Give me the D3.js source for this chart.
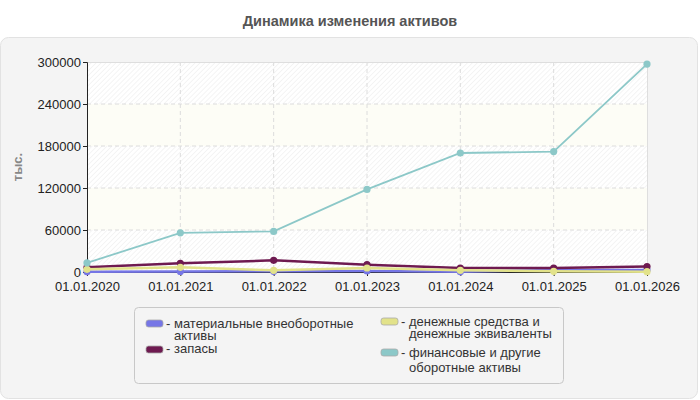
<!DOCTYPE html>
<html>
<head>
<meta charset="utf-8">
<script src="https://d3js.org/d3.v7.min.js"></script>
<style>
  body { margin: 0; background: #fff; }
  svg text { font-family: "Liberation Sans", Arial, sans-serif; }
</style>
</head>
<body>
<script>
// data (тыс.)
const dates = ["01.01.2020", "01.01.2021", "01.01.2022", "01.01.2023", "01.01.2024", "01.01.2025", "01.01.2026"]
const tangible = [300, 800, 1000, 1500, 300, 2900, 2900]
const stocks = [6700, 12400, 16700, 10500, 5700, 5700, 7700]
const cash = [3800, 6700, 2400, 5700, 2400, 1000, 500]
const financial = [13000, 56000, 58000, 118000, 170000, 172000, 297000]
const yTicks = [0, 60000, 120000, 180000, 240000, 300000]

const seriesNames = ["материальные внеоборотные активы", "запасы", "денежные средства и денежные эквиваленты", "финансовые и другие оборотные активы"]
const seriesColors = ["#7676e6", "#6e1a50", "#e2e28a", "#8cc8c8"]
const seriesValues = [tangible, stocks, cash, financial]

const W = 700, H = 400
const m = { left: 87, right: 53, top: 62, bottom: 128 }

const svg = d3.select("body").append("svg").attr("width", W).attr("height", H)

// hatch pattern for the plot background
const defs = svg.append("defs")
const pat = defs.append("pattern").attr("id", "hatch").attr("patternUnits", "userSpaceOnUse")
  .attr("width", 3.5).attr("height", 3.5).attr("patternTransform", "rotate(-45)")
pat.append("rect").attr("width", 3.5).attr("height", 3.5).attr("fill", "#fff")
pat.append("line").attr("x1", 0).attr("y1", 0).attr("x2", 3.5).attr("y2", 0)
  .attr("stroke", "#eeeeee").attr("stroke-width", 1.2)

svg.append("text").attr("x", W / 2).attr("y", 26).attr("text-anchor", "middle")
  .attr("font-size", 14.5).attr("font-weight", "bold").attr("fill", "#555")
  .text("Динамика изменения активов")

// outer panel
svg.append("rect").attr("x", 0.5).attr("y", 37.5).attr("width", W - 3).attr("height", H - 39)
  .attr("rx", 8).attr("fill", "#f4f4f4").attr("stroke", "#e2e2e2")

const x = d3.scalePoint().domain(dates).range([m.left, W - m.right])
const y = d3.scaleLinear().domain([0, 300000]).range([H - m.bottom, m.top])

const plot = svg.append("g")
plot.append("rect").attr("x", m.left).attr("y", m.top)
  .attr("width", W - m.right - m.left).attr("height", H - m.bottom - m.top).attr("fill", "url(#hatch)")

// pale bands between alternate ticks
d3.pairs(yTicks).forEach(([a, b], i) => {
  if (i % 2 === 1) {
    plot.append("rect").attr("x", m.left).attr("y", y(b))
      .attr("width", W - m.right - m.left).attr("height", y(a) - y(b)).attr("fill", "#fdfdf6")
  }
})

// grid
plot.selectAll(".hg").data(yTicks.slice(1, -1)).enter().append("line")
  .attr("x1", m.left).attr("x2", W - m.right).attr("y1", d => y(d)).attr("y2", d => y(d))
  .attr("stroke", "#dcdcdc").attr("stroke-dasharray", "4,3")
plot.selectAll(".vg").data(dates.slice(1, -1)).enter().append("line")
  .attr("x1", d => x(d)).attr("x2", d => x(d)).attr("y1", m.top).attr("y2", H - m.bottom)
  .attr("stroke", "#dcdcdc").attr("stroke-dasharray", "4,3")
plot.append("line").attr("x1", m.left).attr("x2", W - m.right).attr("y1", m.top + 0.5).attr("y2", m.top + 0.5).attr("stroke", "#dedede")
plot.append("line").attr("x1", W - m.right + 0.5).attr("x2", W - m.right + 0.5).attr("y1", m.top).attr("y2", H - m.bottom).attr("stroke", "#dedede")

// axes
const yAxis = svg.append("g").attr("transform", `translate(${m.left},0)`)
  .call(d3.axisLeft(y).tickValues(yTicks).tickSize(4).tickPadding(2).tickFormat(d3.format("d")))
const xAxis = svg.append("g").attr("transform", `translate(0,${H - m.bottom})`)
  .call(d3.axisBottom(x).tickSize(4).tickPadding(6))
;[yAxis, xAxis].forEach(a => {
  a.select(".domain").attr("stroke", "#222")
  a.selectAll(".tick line").attr("stroke", "#222")
  a.selectAll("text").attr("font-size", 13).attr("fill", "#222")
    .attr("font-family", "'Liberation Sans', Arial, sans-serif")
})

svg.append("text").attr("transform", `translate(22,${(m.top + H - m.bottom) / 2}) rotate(-90)`)
  .attr("text-anchor", "middle").attr("font-size", 13).attr("font-weight", "bold").attr("fill", "#888")
  .text("тыс.")

// lines
const line = d3.line().x((d, i) => x(dates[i])).y(d => y(d))
seriesValues.forEach((vals, s) => {
  const g = svg.append("g")
  g.append("path").datum(vals).attr("d", line).attr("fill", "none")
    .attr("stroke", seriesColors[s]).attr("stroke-width", s === 3 ? 1.8 : 2.5)
  g.selectAll("circle").data(vals).enter().append("circle")
    .attr("cx", (d, i) => x(dates[i])).attr("cy", d => y(d)).attr("r", 3.6)
    .attr("fill", seriesColors[s])
})

// legend
const lg = svg.append("g")
lg.append("rect").attr("x", 134.5).attr("y", 307.5).attr("width", 429).attr("height", 76)
  .attr("rx", 4).attr("fill", "#f4f4f4").attr("stroke", "#c8c8c8")
const legendItems = [
  { s: 0, x: 146, y: 320, lines: ["материальные внеоборотные", "активы"], ty: 328 },
  { s: 1, x: 146, y: 346, lines: ["запасы"], ty: 353 },
  { s: 2, x: 381, y: 318, lines: ["денежные средства и", "денежные эквиваленты"], ty: 326 },
  { s: 3, x: 381, y: 349, lines: ["финансовые и другие", "оборотные активы"], ty: 357, gap: 15 }
]
legendItems.forEach(it => {
  lg.append("rect").attr("x", it.x).attr("y", it.y).attr("width", 17).attr("height", 7)
    .attr("rx", 2.5).attr("fill", seriesColors[it.s]).attr("stroke", "#aaa").attr("stroke-width", 0.8)
  const t = lg.append("text").attr("x", it.x + 20).attr("y", it.ty).attr("font-size", 13).attr("fill", "#333")
  it.lines.forEach((l, i) => {
    t.append("tspan").attr("x", i === 0 ? it.x + 20 : it.x + 28)
      .attr("dy", i === 0 ? 0 : (it.gap || 11.5)).text(i === 0 ? "- " + l : l)
  })
})
</script>
</body>
</html>
